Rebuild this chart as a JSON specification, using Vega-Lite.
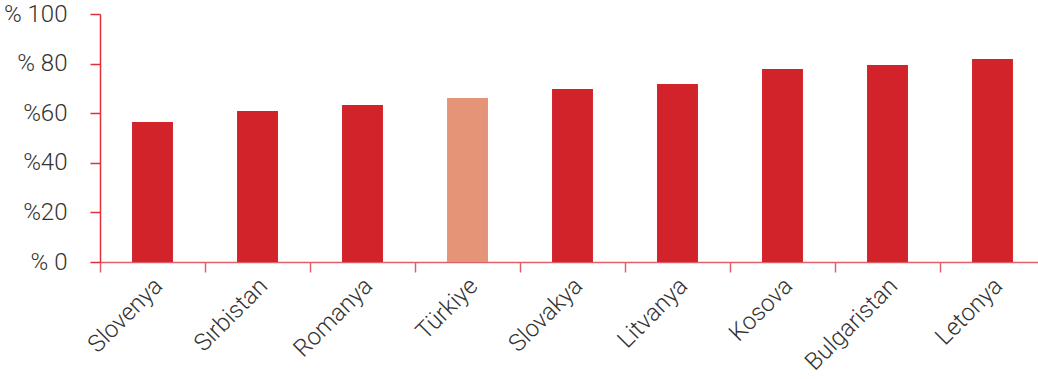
{
  "$schema": "https://vega.github.io/schema/vega-lite/v6.json",
  "autosize": {"type": "none"},
  "padding": {"left": 100, "top": 14, "right": 0, "bottom": 117},
  "width": 945,
  "height": 248,
  "background": "white",
  "config": {"view": {"stroke": null}, "font": "Roboto"},
  "data": {"values": [
    {"ulke": "Slovenya", "deger": 56.5, "vurgu": "no"},
    {"ulke": "Sırbistan", "deger": 60.9, "vurgu": "no"},
    {"ulke": "Romanya", "deger": 63.3, "vurgu": "no"},
    {"ulke": "Türkiye", "deger": 66.1, "vurgu": "yes"},
    {"ulke": "Slovakya", "deger": 69.8, "vurgu": "no"},
    {"ulke": "Litvanya", "deger": 71.8, "vurgu": "no"},
    {"ulke": "Kosova", "deger": 77.8, "vurgu": "no"},
    {"ulke": "Bulgaristan", "deger": 79.4, "vurgu": "no"},
    {"ulke": "Letonya", "deger": 81.9, "vurgu": "no"}
  ]},
  "mark": {"type": "bar", "width": {"band": 0.39}},
  "encoding": {
    "x": {
      "field": "ulke", "type": "nominal", "sort": null,
      "scale": {"paddingInner": 0, "paddingOuter": 0},
      "axis": {
        "title": null, "labelAngle": -45, "labelAlign": "right", "labelBaseline": "middle",
        "labelFont": "Roboto", "labelFontWeight": 300,
        "labelFontSize": 24, "labelColor": "#333333", "labelPadding": 10, "labelOffset": 6,
        "tickBand": "extent", "tickSize": 10, "tickColor": "#e0606a", "tickWidth": 1.5,
        "domainColor": "#e0606a", "domainWidth": 1.5, "grid": false
      }
    },
    "y": {
      "field": "deger", "type": "quantitative",
      "scale": {"domain": [0, 100], "nice": false},
      "axis": {
        "title": null, "values": [0, 20, 40, 60, 80, 100],
        "labelExpr": "datum.value == 0 ? '% 0' : datum.value == 80 ? '% 80' : datum.value == 100 ? '% 100' : '%' + datum.value",
        "labelFont": "Roboto", "labelFontWeight": 300,
        "labelFontSize": 24, "labelColor": "#333333", "labelPadding": 23,
        "tickSize": 10, "tickColor": "#e0303a", "tickWidth": 1.5,
        "domainColor": "#e0303a", "domainWidth": 1.5, "grid": false
      }
    },
    "color": {
      "field": "vurgu", "type": "nominal",
      "scale": {"domain": ["no", "yes"], "range": ["#d2232a", "#e69478"]},
      "legend": null
    }
  }
}
